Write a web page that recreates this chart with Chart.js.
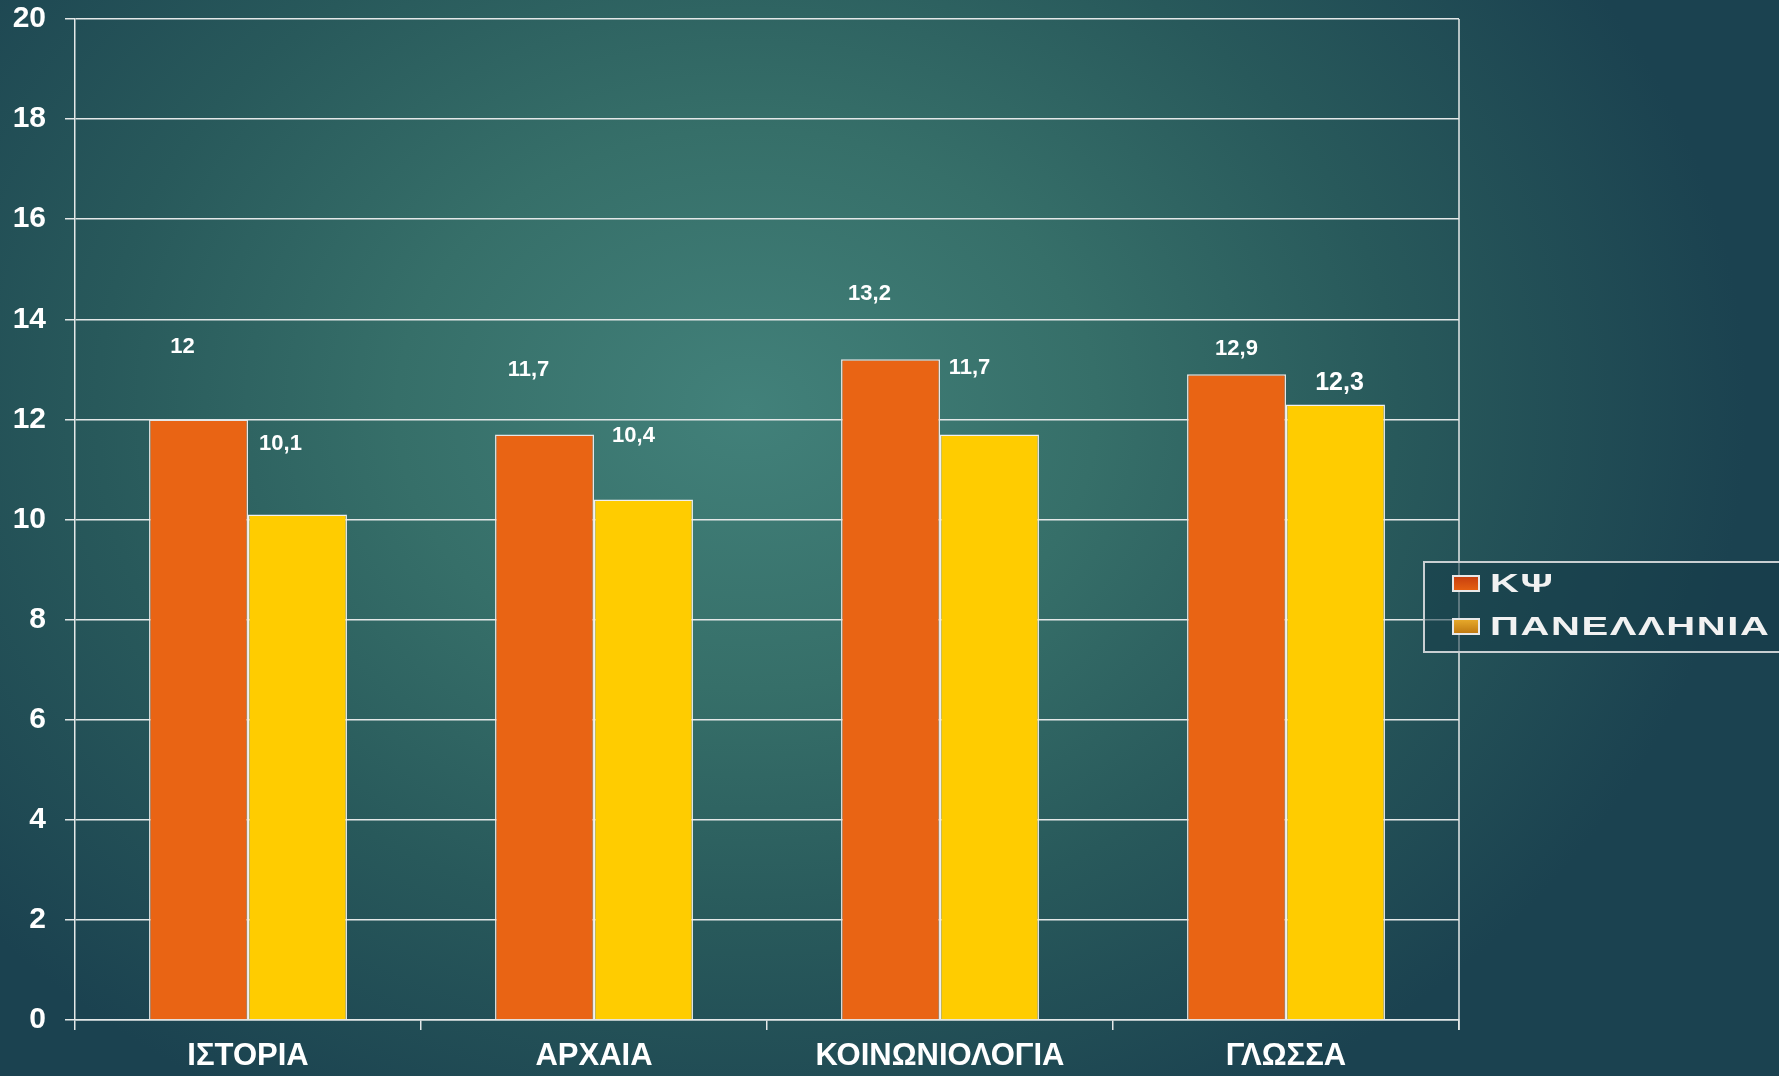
<!DOCTYPE html>
<html>
<head>
<meta charset="utf-8">
<script src="https://cdn.jsdelivr.net/npm/chart.js@4.4.0/dist/chart.umd.min.js"></script>
<style>
    html, body {
        margin: 0;
        padding: 0;
        width: 1779px;
        height: 1076px;
        overflow: hidden;
    }
    body {
        background: radial-gradient(ellipse 1000px 800px at 42% 38%, #42817a 0%, #366f69 35%, #28595b 65%, #1b4250 100%);
        font-family: "Liberation Sans", Arial, sans-serif;
    }
    #wrap {
        position: relative;
        width: 1779px;
        height: 1076px;
    }
    #legend {
        position: absolute;
        left: 1423px;
        top: 561px;
        width: 400px;
        height: 88px;
        border: 2px solid #c9cfd2;
        background: rgba(22, 60, 72, 0.55);
    }
    .item {
        position: absolute;
        left: 27px;
        height: 30px;
        display: flex;
        align-items: center;
        color: #f2f2f2;
        font-weight: bold;
        font-size: 25px;
    }
    .swatch {
        width: 24px;
        height: 13px;
        border: 2px solid #e8e8e8;
        margin-right: 10px;
    }
    .label {
        display: inline-block;
        letter-spacing: 1px;
        transform: scaleX(1.6);
        transform-origin: left center;
    }
</style>
</head>
<body>
<div id="wrap">
    <canvas id="chart" width="1779" height="1076"></canvas>
    <div id="legend">
        <div class="item" style="top: 5px;"><span class="swatch" style="background: linear-gradient(#c8400f, #e45f12);"></span><span class="label">ΚΨ</span></div>
        <div class="item" style="top: 48px;"><span class="swatch" style="background: linear-gradient(#e6a82a, #c07a12);"></span><span class="label">ΠΑΝΕΛΛΗΝΙΑ</span></div>
    </div>
</div>
<script>
const categories = ['ΙΣΤΟΡΙΑ', 'ΑΡΧΑΙΑ', 'ΚΟΙΝΩΝΙΟΛΟΓΙΑ', 'ΓΛΩΣΣΑ'];
const kpsiValues = [12, 11.7, 13.2, 12.9];
const panellhniaValues = [10.1, 10.4, 11.7, 12.3];

// where each value label sits relative to the top of its bar (pixels), as placed in the original slide
const labelOffsets = [
    [[-16, -72], [-16, -64], [-21, -65], [0, -25]],
    [[-17, -71], [-10, -64], [-20, -66], [4, -21]]
];
const labelSizes = [
    [22, 22, 22, 22],
    [22, 22, 22, 25]
];

const gridColor = '#e4e8e8';
const fontFamily = '"Liberation Sans", Arial, sans-serif';

const valueLabels = {
    id: 'valueLabels',
    afterDatasetsDraw(chart) {
        const ctx = chart.ctx;
        ctx.save();
        ctx.fillStyle = '#ffffff';
        ctx.textAlign = 'center';
        ctx.textBaseline = 'middle';
        chart.data.datasets.forEach(function (ds, i) {
            const meta = chart.getDatasetMeta(i);
            meta.data.forEach(function (bar, j) {
                const off = labelOffsets[i][j];
                const text = String(ds.data[j]).replace('.', ',');
                ctx.font = 'bold ' + labelSizes[i][j] + 'px ' + fontFamily;
                ctx.fillText(text, bar.x + off[0], bar.y + off[1]);
            });
        });
        ctx.restore();
    }
};

const rightBorder = {
    id: 'rightBorder',
    afterDraw(chart) {
        const a = chart.chartArea;
        const ctx = chart.ctx;
        ctx.save();
        ctx.strokeStyle = gridColor;
        ctx.lineWidth = 1.5;
        ctx.beginPath();
        ctx.moveTo(a.right, a.top);
        ctx.lineTo(a.right, a.bottom + 10);
        ctx.stroke();
        ctx.restore();
    }
};

const chart = new Chart(document.getElementById('chart'), {
    type: 'bar',
    data: {
        labels: categories,
        datasets: [
            {
                label: 'ΚΨ',
                data: kpsiValues,
                backgroundColor: '#e96414',
                borderColor: '#e6e6e6',
                borderWidth: 1.5,
            },
            {
                label: 'ΠΑΝΕΛΛΗΝΙΑ',
                data: panellhniaValues,
                backgroundColor: '#ffcc00',
                borderColor: '#f0f0f0',
                borderWidth: 1.5,
            }
        ]
    },
    options: {
        responsive: false,
        animation: false,
        maintainAspectRatio: false,
        layout: {
            padding: {top: 19, right: 320, left: 0, bottom: 0}
        },
        datasets: {
            bar: {
                categoryPercentage: 0.572,
                barPercentage: 1,
            }
        },
        plugins: {
            legend: {display: false},
            tooltip: {enabled: false},
        },
        scales: {
            x: {
                afterFit: function (scale) {
                    scale.height = 56;
                },
                grid: {
                    drawOnChartArea: false,
                    drawTicks: true,
                    tickLength: 10,
                    color: gridColor,
                    lineWidth: 1.5,
                },
                border: {color: gridColor, width: 1.5},
                ticks: {
                    color: '#ffffff',
                    padding: 8,
                    maxRotation: 0,
                    font: {family: fontFamily, size: 31, weight: 'bold'},
                }
            },
            y: {
                min: 0,
                max: 20,
                afterFit: function (scale) {
                    scale.width = 75;
                    scale.paddingTop = 0;
                    scale.paddingBottom = 0;
                },
                grid: {
                    color: gridColor,
                    lineWidth: 1.5,
                    tickLength: 10,
                },
                border: {color: gridColor, width: 1.5},
                ticks: {
                    stepSize: 2,
                    color: '#ffffff',
                    padding: 19,
                    font: {family: fontFamily, size: 30, weight: 'bold'},
                }
            }
        }
    },
    plugins: [valueLabels, rightBorder]
});
</script>
</body>
</html>
